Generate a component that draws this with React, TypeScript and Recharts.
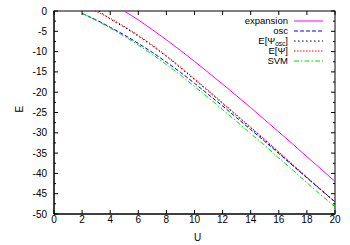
import React from 'react';
import { LineChart, Line, XAxis, YAxis, Legend } from 'recharts';

// U grid for each curve (curves start where the energy leaves 0)
const uOsc = [2, 3, 4, 5, 6, 7, 8, 9, 10, 11, 12, 13, 14, 15, 16, 17, 18, 19, 20];
const uExpansion = [5, 6, 7, 8, 9, 10, 11, 12, 13, 14, 15, 16, 17, 18, 19, 20];
const uPsiOsc = [3.2, 4, 5, 6, 7, 8, 9, 10, 11, 12, 13, 14, 15, 16, 17, 18, 19, 20];
const uPsi = [2.9, 4, 5, 6, 7, 8, 9, 10, 11, 12, 13, 14, 15, 16, 17, 18, 19, 20];

// energies
const expansion = [0, -2.2, -4.6, -7.1, -9.7, -12.4, -15.2, -18.0, -20.9, -23.8, -26.8, -29.8, -32.8, -35.9, -38.9, -42.0];
const osc = [-0.6, -2.2, -4.0, -5.9, -8.0, -10.2, -12.6, -15.1, -17.8, -20.6, -23.4, -26.3, -29.2, -32.1, -35.1, -38.1, -41.1, -44.1, -47.0];
const psiOsc = [0, -2.0, -4.0, -6.2, -8.6, -11.2, -14.0, -16.9, -19.8, -22.8, -25.8, -28.8, -31.8, -34.9, -38.0, -41.0, -44.0, -47.0];
const psi = [0, -1.8, -3.8, -6.0, -8.4, -11.0, -13.8, -16.7, -19.6, -22.6, -25.6, -28.6, -31.6, -34.7, -37.8, -40.9, -44.0, -47.0];
const svm = [-0.6, -2.3, -4.2, -6.2, -8.4, -10.7, -13.2, -15.8, -18.6, -21.4, -24.3, -27.2, -30.2, -33.1, -36.2, -39.2, -42.3, -45.3, -48.2];

const xTicks = [0, 2, 4, 6, 8, 10, 12, 14, 16, 18, 20];
const yTicks = [0, -2.5, -5, -7.5, -10, -12.5, -15, -17.5, -20, -22.5, -25, -27.5, -30, -32.5, -35, -37.5, -40, -42.5, -45, -47.5, -50];

const toPoints = (us: number[], es: number[]) => us.map((u, i) => ({ u, e: es[i] }));

const FONT = '"Liberation Sans", Arial, sans-serif';

// plot frame (gnuplot style border with mirrored ticks)
const W = 350;
const H = 245;
const M = { top: 11, right: 15, bottom: 0, left: 0 };
const Y_AXIS_W = 54;
const X_AXIS_H = 31;
const PLOT_TOP = M.top;
const PLOT_RIGHT = W - M.right;

const series = [
  { name: 'expansion', data: toPoints(uExpansion, expansion), color: '#ff00ff', dash: undefined },
  { name: 'osc', data: toPoints(uOsc, osc), color: '#0000ff', dash: '4 2' },
  { name: 'E[Ψosc]', data: toPoints(uPsiOsc, psiOsc), color: '#000000', dash: '1.5 2.5' },
  { name: 'E[Ψ]', data: toPoints(uPsi, psi), color: '#ff0000', dash: '1.5 1.5' },
  { name: 'SVM', data: toPoints(uOsc, svm), color: '#00e000', dash: '5 2 1.5 2' },
];

const YTick = (props: any) => {
  const { x, y, payload } = props;
  const major = payload.value % 5 === 0;
  const len = major ? 4 : 2;
  return (
    <g>
      <line x1={x} x2={x + len} y1={y} y2={y} stroke="#000" />
      <line x1={PLOT_RIGHT} x2={PLOT_RIGHT - len} y1={y} y2={y} stroke="#000" />
      {major && (
        <text x={x - 7} y={y} dy="0.35em" textAnchor="end" fontSize={10} fontFamily={FONT} fill="#000">
          {payload.value}
        </text>
      )}
    </g>
  );
};

const XTick = (props: any) => {
  const { x, y, payload } = props;
  return (
    <g>
      <line x1={x} x2={x} y1={y} y2={y - 4} stroke="#000" />
      <line x1={x} x2={x} y1={PLOT_TOP} y2={PLOT_TOP + 4} stroke="#000" />
      <text x={x} y={y + 9} textAnchor="middle" fontSize={10} fontFamily={FONT} fill="#000">
        {payload.value}
      </text>
    </g>
  );
};

const legendLabel = (name: string) => {
  if (name === 'E[Ψosc]') {
    return (
      <span>
        E[Ψ<sub style={{ fontSize: 6.5, lineHeight: 0, verticalAlign: '-1.5px' }}>osc</sub>]
      </span>
    );
  }
  return <span>{name}</span>;
};

const renderLegend = () => (
  <div style={{ fontFamily: FONT, fontSize: 9.5, color: '#000' }}>
    {series.map((s) => (
      <div key={s.name} style={{ display: 'flex', alignItems: 'center', height: 10, lineHeight: '10px' }}>
        <div style={{ width: 88, textAlign: 'right' }}>{legendLabel(s.name)}</div>
        <svg width={35} height={10} style={{ display: 'block' }}>
          <line x1={6} x2={35} y1={5} y2={5} stroke={s.color} strokeWidth={1} strokeDasharray={s.dash} />
        </svg>
      </div>
    ))}
  </div>
);

export default function App() {
  return (
    <div style={{ position: 'absolute', left: 0, top: 0, background: '#fff' }}>
      <LineChart width={W} height={H} margin={M}>
        <XAxis
          xAxisId="b"
          type="number"
          dataKey="u"
          domain={[0, 20]}
          ticks={xTicks}
          interval={0}
          height={X_AXIS_H}
          stroke="#000"
          tickLine={false}
          tickSize={0}
          tickMargin={0}
          tick={XTick}
          label={{ value: 'U', position: 'insideBottom', offset: 4, dx: 3, fontSize: 10, fontFamily: FONT, fill: '#000' }}
        />
        <YAxis
          yAxisId="l"
          type="number"
          dataKey="e"
          domain={[-50, 0]}
          ticks={yTicks}
          interval={0}
          width={Y_AXIS_W}
          stroke="#000"
          tickLine={false}
          tickSize={0}
          tickMargin={0}
          tick={YTick}
          label={{ value: 'E', angle: -90, position: 'insideLeft', offset: 19, fontSize: 10, fontFamily: FONT, fill: '#000' }}
        />
        {series.map((s) => (
          <Line
            key={s.name}
            xAxisId="b"
            yAxisId="l"
            data={s.data}
            dataKey="e"
            name={s.name}
            type="monotone"
            stroke={s.color}
            strokeWidth={1}
            strokeDasharray={s.dash}
            dot={false}
            isAnimationActive={false}
          />
        ))}
        <rect
          x={Y_AXIS_W + M.left}
          y={PLOT_TOP}
          width={PLOT_RIGHT - Y_AXIS_W - M.left}
          height={H - X_AXIS_H - PLOT_TOP - M.bottom}
          fill="none"
          stroke="#000"
        />
        <Legend
          layout="vertical"
          verticalAlign="middle"
          align="center"
          content={renderLegend}
          wrapperStyle={{ position: 'absolute', left: 200, top: 16, width: 125 }}
        />
      </LineChart>
    </div>
  );
}
